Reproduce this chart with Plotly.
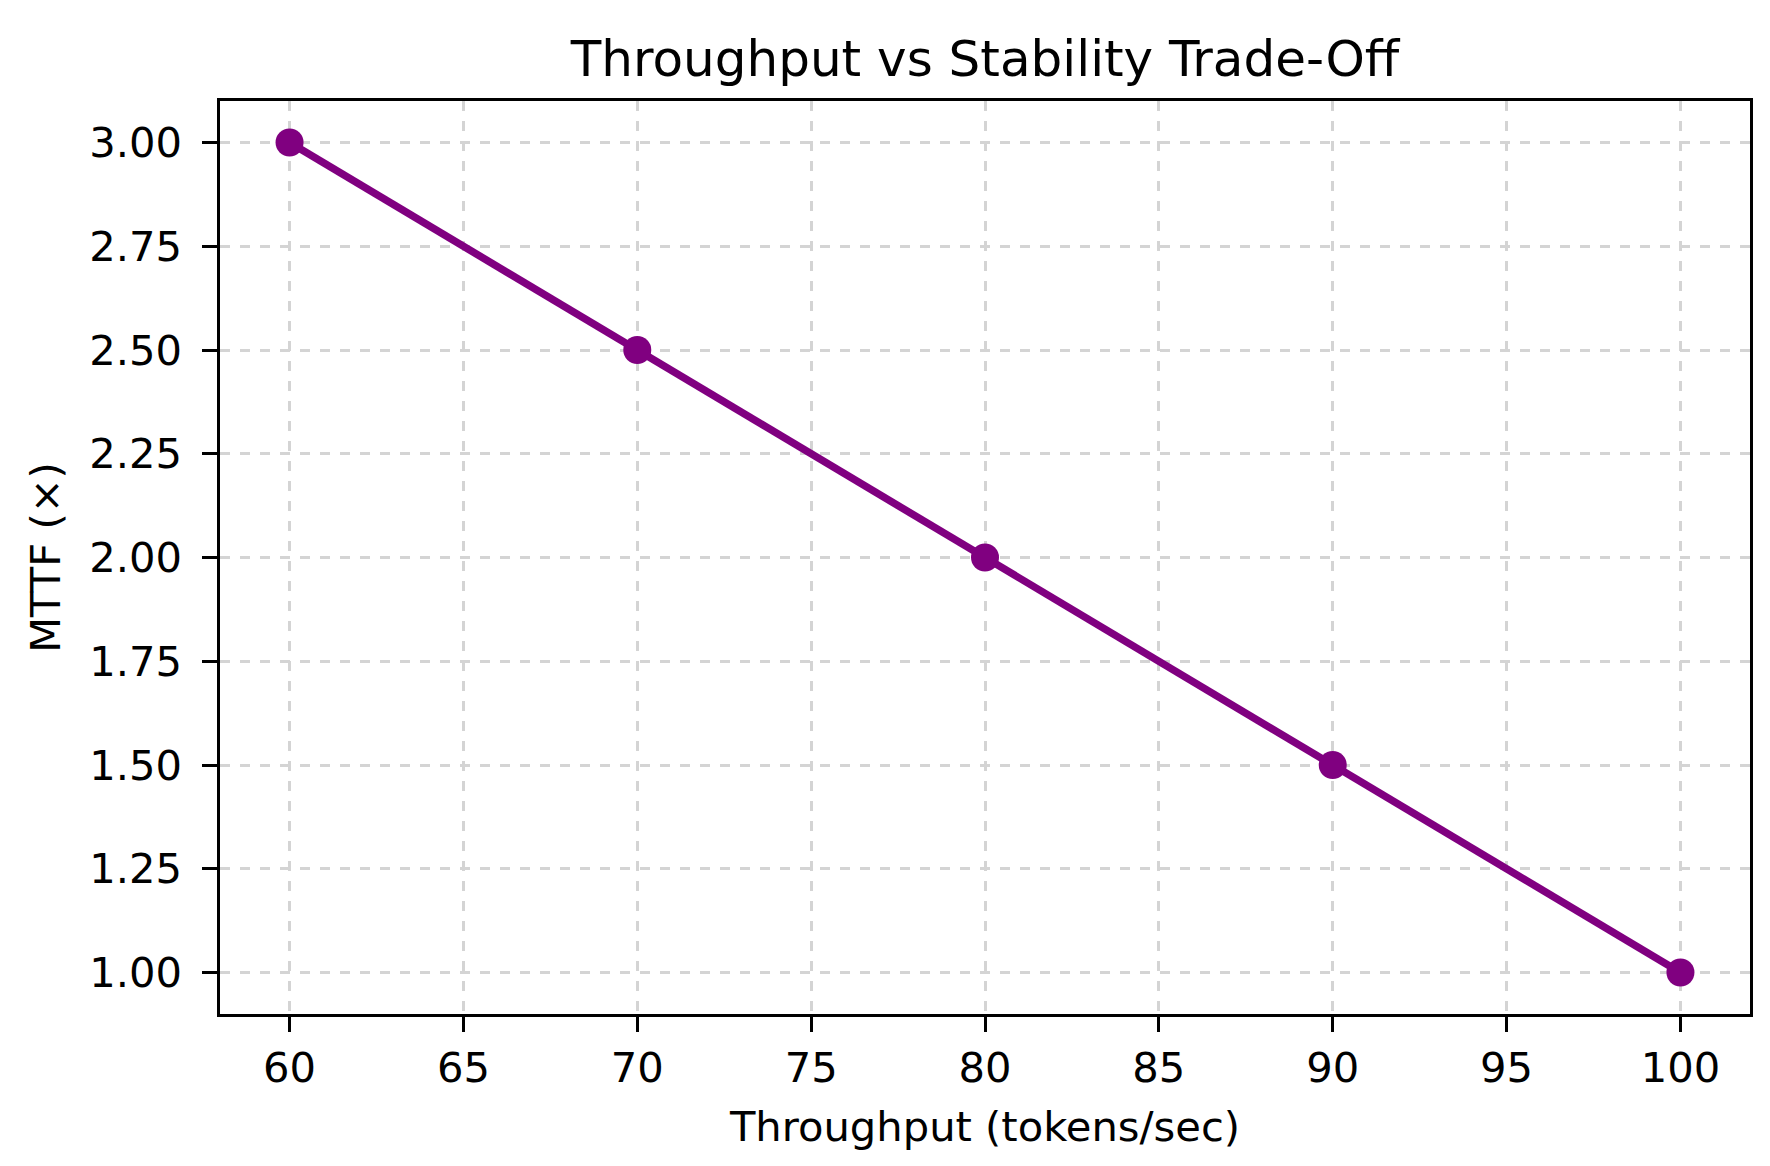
import plotly.graph_objects as go

throughput = [60, 70, 80, 90, 100]
mttf = [3.0, 2.5, 2.0, 1.5, 1.0]

FONT = "DejaVu Sans"
PT = 300 / 72  # figure was rendered at 300 dpi

fig = go.Figure()
fig.add_trace(go.Scatter(
    x=throughput, y=mttf,
    mode="lines+markers",
    line=dict(color="purple", width=7.5),
    marker=dict(color="purple", size=28),
    showlegend=False,
))

axis_common = dict(
    showline=True, linecolor="black", linewidth=0.8 * PT, mirror=True,
    ticks="outside", ticklen=3.5 * PT, tickwidth=0.8 * PT, tickcolor="black",
    showgrid=True, gridcolor="#d4d4d4", gridwidth=0.8 * PT, griddash="dash",
    zeroline=False,
    tickfont=dict(family=FONT, size=10 * PT, color="black"),
)

fig.update_xaxes(
    range=[58, 102], dtick=5, tick0=0, ticklabelstandoff=0,
    title=dict(text="Throughput (tokens/sec)", font=dict(family=FONT, size=10 * PT, color="black"), standoff=22),
    **axis_common,
)
fig.update_yaxes(
    range=[0.9, 3.1], dtick=0.25, tick0=0, tickformat=".2f", ticklabelstandoff=12,
    title=dict(text="MTTF (×)", font=dict(family=FONT, size=10 * PT, color="black"), standoff=16),
    **axis_common,
)

fig.update_layout(
    width=1770, height=1166,
    paper_bgcolor="white", plot_bgcolor="white",
    margin=dict(l=212, r=28, t=93, b=160),
    title=dict(
        text="Throughput vs Stability Trade-Off",
        font=dict(family=FONT, size=12 * PT, color="black"),
        x=0.5, xref="paper", xanchor="center",
        y=(1166 - 50) / 1166, yref="container", yanchor="middle",
    ),
)

fig.write_html("out.html")
